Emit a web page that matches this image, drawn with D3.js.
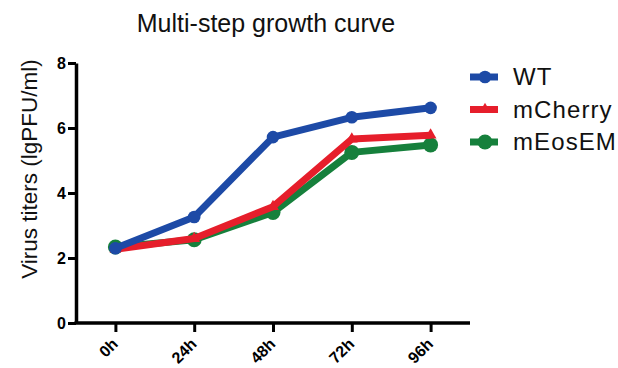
<!DOCTYPE html>
<html>
<head>
<meta charset="utf-8">
<script src="https://cdn.jsdelivr.net/npm/d3@7"></script>
<style>
  html, body { margin: 0; padding: 0; background: #fff; }
  svg { display: block; font-family: "Liberation Sans", Arial, sans-serif; }
</style>
</head>
<body>
<svg id="chart" width="618" height="368"></svg>
<script>
// Time points and titers (lg PFU/ml) per virus
const timePoints = ["0h", "24h", "48h", "72h", "96h"];
const wtValues = [2.30, 3.26, 5.72, 6.33, 6.62];
const mCherryValues = [2.27, 2.60, 3.58, 5.66, 5.78];
const mEosEMValues = [2.34, 2.56, 3.40, 5.25, 5.48];
const yTicks = [0, 2, 4, 6, 8];

const seriesNames = ["WT", "mCherry", "mEosEM"];
const seriesColors = ["#1d4aa6", "#e61e2b", "#16803c"];
const seriesSymbols = ["circle", "triangle", "bigcircle"];
const seriesValues = [wtValues, mCherryValues, mEosEMValues];

const series = seriesNames.map((name, i) => ({
  name, color: seriesColors[i], symbol: seriesSymbols[i], values: seriesValues[i]
}));

const svg = d3.select("#chart");
const plotLeft = 76, plotRight = 470, plotTop = 63, plotBottom = 323;

const x = d3.scalePoint().domain(timePoints).range([plotLeft, plotRight]).padding(0.5);
const y = d3.scaleLinear().domain([0, 8]).range([plotBottom, plotTop]);

// Title
svg.append("text")
  .attr("x", 266).attr("y", 32)
  .attr("text-anchor", "middle")
  .attr("font-size", 25)
  .attr("fill", "#111")
  .text("Multi-step growth curve");

// Y axis title
svg.append("text")
  .attr("transform", `translate(37,169) rotate(-90)`)
  .attr("text-anchor", "middle")
  .attr("font-size", 22.5)
  .attr("fill", "#111")
  .text("Virus titers (lgPFU/ml)");

// Y axis
const yAxis = svg.append("g")
  .attr("transform", `translate(${plotLeft},0)`)
  .call(d3.axisLeft(y).tickValues(yTicks).tickSize(8).tickPadding(2).tickSizeOuter(0));
yAxis.select(".domain").attr("stroke", "#000").attr("stroke-width", 3.5);
yAxis.selectAll(".tick line").attr("stroke", "#000").attr("stroke-width", 3);
yAxis.selectAll(".tick text")
  .attr("font-size", 16).attr("font-weight", "bold")
  .attr("font-family", "Liberation Sans, Arial, sans-serif")
  .attr("fill", "#000");

// X axis with slanted hour labels
const xAxis = svg.append("g")
  .attr("transform", `translate(0,${plotBottom})`)
  .call(d3.axisBottom(x).tickSize(9).tickSizeOuter(0));
xAxis.select(".domain").attr("stroke", "#000").attr("stroke-width", 3.5)
  .attr("d", `M${plotLeft - 1.5},0H${plotRight}`);
xAxis.selectAll(".tick line").attr("stroke", "#000").attr("stroke-width", 3);
xAxis.selectAll(".tick text")
  .attr("font-size", 16).attr("font-weight", "bold")
  .attr("font-family", "Liberation Sans, Arial, sans-serif")
  .attr("fill", "#000")
  .attr("text-anchor", "end")
  .attr("x", 0).attr("y", 0).attr("dy", null)
  .attr("transform", "translate(3,22) rotate(-45)");

const line = d3.line()
  .x((d, i) => x(timePoints[i]))
  .y(d => y(d));

function drawSymbol(g, s, cx, cy) {
  if (s.symbol === "triangle") {
    g.append("path")
      .attr("d", d3.symbol().type(d3.symbolTriangle).size(60)())
      .attr("transform", `translate(${cx},${cy})`)
      .attr("fill", s.color);
  } else {
    g.append("circle")
      .attr("cx", cx).attr("cy", cy)
      .attr("r", s.symbol === "bigcircle" ? 7.5 : 6.3)
      .attr("fill", s.color);
  }
}

// Series drawn back to front: mEosEM, mCherry, WT
const plot = svg.append("g");
[...series].reverse().forEach(s => {
  const g = plot.append("g");
  g.append("path")
    .datum(s.values)
    .attr("d", line)
    .attr("fill", "none")
    .attr("stroke", s.color)
    .attr("stroke-width", 7)
    .attr("stroke-linejoin", "round");
  s.values.forEach((v, i) => drawSymbol(g, s, x(timePoints[i]), y(v)));
});

// Legend
const legend = svg.append("g");
series.forEach((s, i) => {
  const ly = 77 + i * 32.5;
  const g = legend.append("g");
  g.append("line")
    .attr("x1", 470).attr("x2", 498)
    .attr("y1", ly).attr("y2", ly)
    .attr("stroke", s.color).attr("stroke-width", 7);
  drawSymbol(g, s, 485, ly);
  g.append("text")
    .attr("x", 513).attr("y", ly + 8)
    .attr("font-size", 24)
    .attr("letter-spacing", 1.1)
    .attr("fill", "#111")
    .text(s.name);
});
</script>
</body>
</html>
